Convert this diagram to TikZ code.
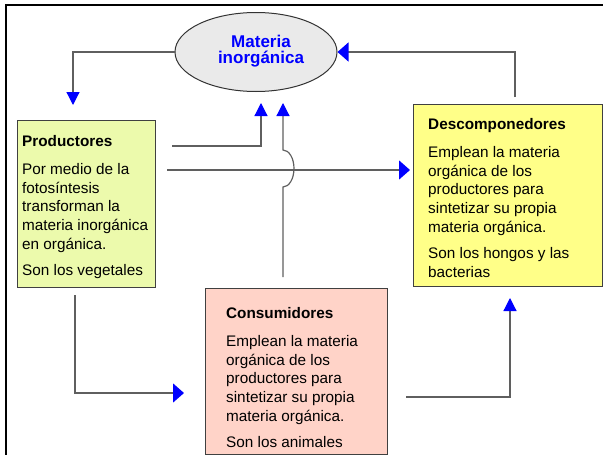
\documentclass[tikz,border=0pt]{standalone}
\usepackage{fontspec}
\setmainfont{Liberation Sans}
\usetikzlibrary{calc, positioning, arrows.meta, shapes.geometric}
\definecolor{prodfill}{RGB}{236,250,172}
\definecolor{descfill}{RGB}{255,255,136}
\definecolor{consfill}{RGB}{255,211,200}
\definecolor{matfill}{RGB}{234,234,234}
\definecolor{linkgray}{RGB}{95,95,95}
\tikzset{
	box/.style={
		draw=black!75,
		line width=1pt,
		anchor=north west,
		inner sep=0pt
	},
	boxtext/.style={
		anchor=north west,
		align=left,
		inner sep=0pt,
		font=\fontsize{15.3}{18.7}\selectfont
	},
	link/.style={
		draw=linkgray,
		line width=1.2pt
	},
	vtip/.style={
		-{Triangle[length=13pt, width=13pt, color=blue, fill=blue]}
	},
	htip/.style={
		-{Triangle[length=11pt, width=19pt, color=blue, fill=blue]}
	}
}

\begin{document}
\begin{tikzpicture}[x=1pt, y=-1pt]
\useasboundingbox (0,0) rectangle (603,455);
\draw[line width=1.5pt] (603,5) -| (6,455);

% the four parts of the cycle
\node[ellipse, draw=black!80, line width=1pt, fill=matfill, minimum width=162pt, minimum height=79pt] (mat) at (256,52) {};
\node[align=center, text=blue, inner sep=0pt, font=\fontsize{17}{16.5}\selectfont\bfseries] (mattxt) at (261,51) {Materia\\inorgánica};

\node[box, fill=prodfill, minimum width=138pt, minimum height=167pt] (prod) at (17,120) {};
\node[boxtext, below right=15.5pt and 5pt of prod.north west] (prodtxt) {\textbf{Productores}\\[9pt]
Por medio de la\\fotosíntesis\\transforman la\\materia inorgánica\\en orgánica.\\[8pt]
Son los vegetales};

\node[box, fill=descfill, minimum width=189pt, minimum height=182pt] (desc) at (413,104) {};
\node[boxtext, below right=14.5pt and 15pt of desc.north west] (desctxt) {\textbf{Descomponedores}\\[9pt]
Emplean la materia\\orgánica de los\\productores para\\sintetizar su propia\\materia orgánica.\\[8pt]
Son los hongos y las\\bacterias};

\node[box, fill=consfill, minimum width=182pt, minimum height=166pt] (cons) at (205,288) {};
\node[boxtext, below right=19.5pt and 21pt of cons.north west] (constxt) {\textbf{Consumidores}\\[9pt]
Emplean la materia\\orgánica de los\\productores para\\sintetizar su propia\\materia orgánica.\\[8pt]
Son los animales};

% free ends of the connectors
\coordinate (m2p) at (73,105);
\coordinate (d2m) at (515,97);
\coordinate (p2m) at (172,146);
\coordinate (pm) at (261,103);
\coordinate (c2m) at (283,277);
\coordinate (cm) at (283,103);
\coordinate (p2d) at (167,170);
\coordinate (p2c) at (75,295);
\coordinate (pc) at (184,393);
\coordinate (c2d) at (406,397);
\coordinate (cd) at (510,298);

\draw[link, vtip] (mat.west) -| (m2p);
\draw[link, htip] (d2m) |- (mat.east);
\draw[link, vtip] (p2m) -| (pm);
\draw[link, vtip] (c2m) -- ++(0,-90) arc[start angle=-90, end angle=90, x radius=11pt, y radius=18.5pt] -- (cm);
\draw[link, htip, shorten >=3pt] (p2d) -- (desc.west |- p2d);
\draw[link, htip] (p2c) |- (pc);
\draw[link, vtip] (c2d) -| (cd);
\end{tikzpicture}
\end{document}
